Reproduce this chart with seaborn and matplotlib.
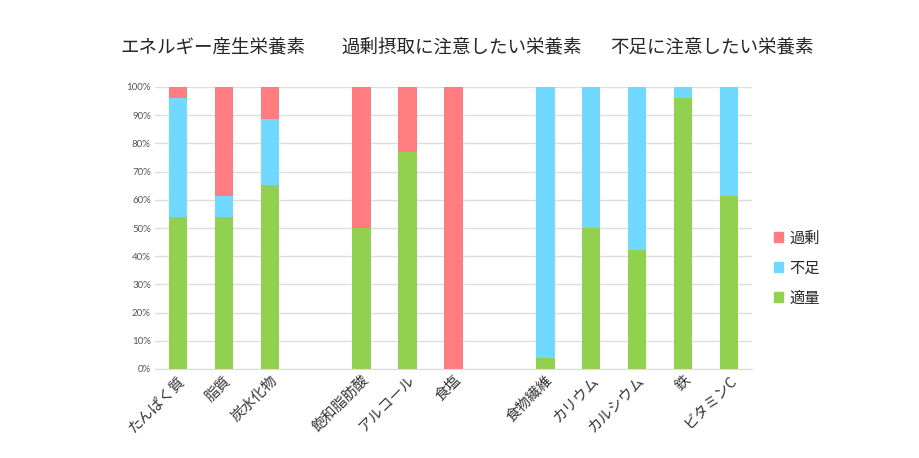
import numpy as np
import pandas as pd
import matplotlib
matplotlib.use("Agg")
import matplotlib.pyplot as plt
import seaborn as sns
from matplotlib.patches import Patch
from matplotlib.ticker import PercentFormatter

# slots (blank names make the gaps between the groups)
categories = ['たんぱく質', '脂質', '炭水化物', ' ',
              '飽和脂肪酸', 'アルコール', '食塩', '  ',
              '食物繊維', 'カリウム', 'カルシウム', '鉄', 'ビタミンC']
nutrients = ['たんぱく質', '脂質', '炭水化物',
             '飽和脂肪酸', 'アルコール', '食塩',
             '食物繊維', 'カリウム', 'カルシウム', '鉄', 'ビタミンC']
tekiryo = [53.8, 53.8, 65.4, 50.0, 76.9, 0.0, 3.8, 50.0, 42.3, 96.2, 61.5]
fusoku = [42.3, 7.7, 23.1, 0.0, 0.0, 0.0, 96.2, 50.0, 57.7, 3.8, 38.5]
kajo = [3.9, 38.5, 11.5, 50.0, 23.1, 100.0, 0.0, 0.0, 0.0, 0.0, 0.0]

group_titles = ['エネルギー産生栄養素', '過剰摂取に注意したい栄養素', '不足に注意したい栄養素']

col_kajo = '#FF7C80'
col_fusoku = '#71D8FF'
col_tekiryo = '#92D050'

df = pd.DataFrame({'nutrient': nutrients, 'tekiryo': tekiryo,
                   'fusoku': fusoku, 'kajo': kajo})
df['top'] = df['tekiryo'] + df['fusoku'] + df['kajo']
df['mid'] = df['tekiryo'] + df['fusoku']

sns.set_style('white')
plt.rcParams['font.family'] = ['Noto Sans CJK JP', 'DejaVu Sans']

fig = plt.figure(figsize=(9.2, 4.58), dpi=100)
ax = fig.add_axes([155 / 920, 1 - 369 / 458, 597 / 920, 282 / 458])

for col, c in [('top', col_kajo), ('mid', col_fusoku), ('tekiryo', col_tekiryo)]:
    sns.barplot(data=df, x='nutrient', y=col, order=categories, color=c,
                width=0.4, saturation=1, ax=ax, linewidth=0)

ax.set_ylim(0, 100)
ax.set_xlim(-0.5, len(categories) - 0.5)
ax.yaxis.set_major_locator(plt.MultipleLocator(10))
ax.yaxis.set_major_formatter(PercentFormatter(decimals=0))
ax.yaxis.grid(True, color='#DDDDDD', linewidth=1)
ax.set_axisbelow(True)
ax.tick_params(axis='y', labelsize=7, labelcolor='#555555', length=0, pad=3)
for lb in ax.get_yticklabels():
    lb.set_family('Lato')
ax.tick_params(axis='x', length=0, pad=3)
ax.set_xticks(range(len(categories)))
ax.set_xticklabels(categories, rotation=45, ha='right', rotation_mode='anchor',
                   fontsize=10.5, color='#333333')
ax.set_xlabel('')
ax.set_ylabel('')
for s in ['top', 'right', 'left']:
    ax.spines[s].set_visible(False)
ax.spines['bottom'].set_color('#DDDDDD')

for x, t in zip([213, 462, 712], group_titles):
    fig.text(x / 920, 1 - 47 / 458, t, ha='center', va='center', fontsize=13.3)

handles = [Patch(color=col_kajo, label='過剰'),
           Patch(color=col_fusoku, label='不足'),
           Patch(color=col_tekiryo, label='適量')]
fig.legend(handles=handles, loc='center left', bbox_to_anchor=(760 / 920, 1 - 268 / 458),
           frameon=False, fontsize=11, handlelength=0.6, handleheight=0.6,
           handletextpad=0.4, labelspacing=0.85)

fig.savefig('out.png', dpi=100)
